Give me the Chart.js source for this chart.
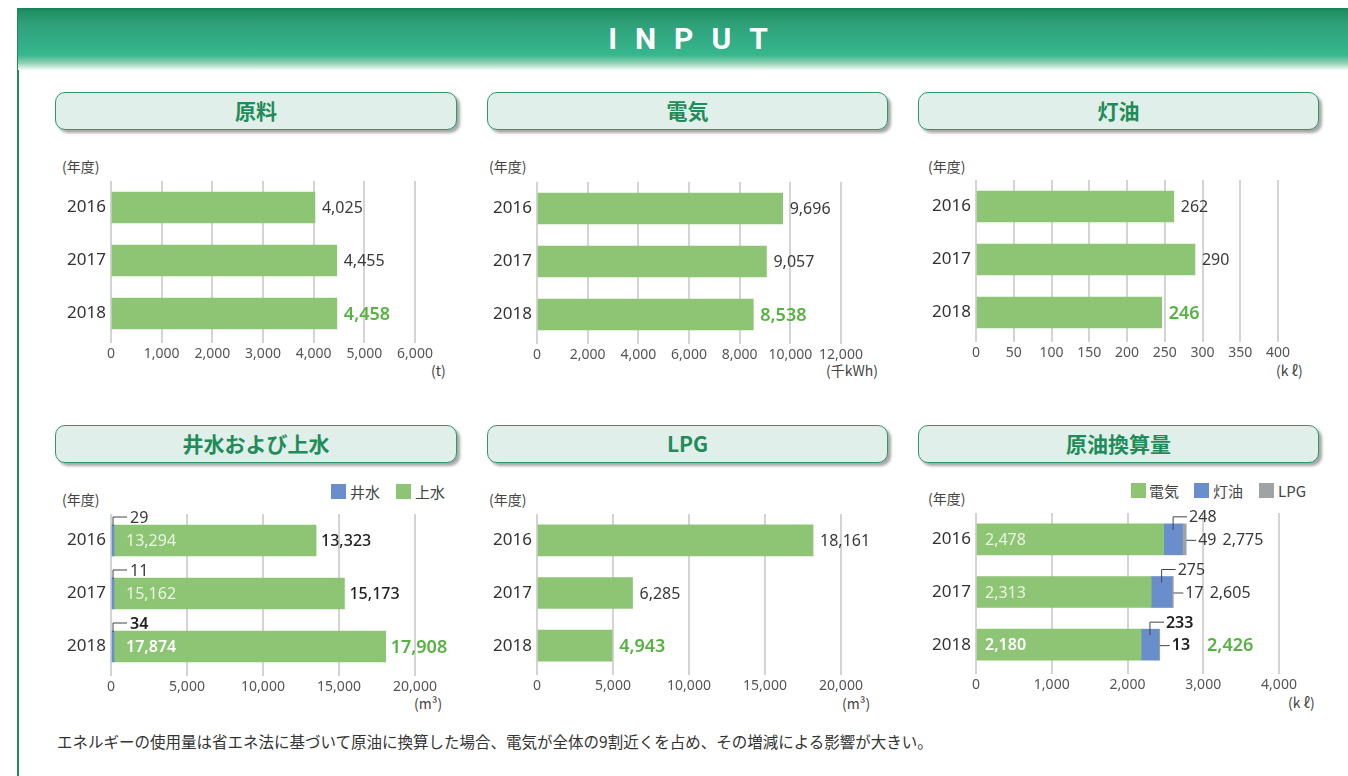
<!DOCTYPE html>
<html lang="ja">
<head>
<meta charset="utf-8">
<script src="https://cdn.jsdelivr.net/npm/chart.js@4.4.1/dist/chart.umd.min.js"></script>
<style>
  body { margin: 0; width: 1348px; height: 776px; position: relative; overflow: hidden; background: #fff;
         font-family: 'Noto Sans CJK JP', 'Noto Sans', sans-serif; }
  .abs { position: absolute; }
  #leftLine { left: 17px; top: 8px; width: 2px; height: 768px; background: #1d8b5c; }
  #band { left: 18px; top: 8px; width: 1330px; height: 62px;
          background: linear-gradient(to bottom, #15825a 0px, #1f8f63 3px, #2e9f77 14px, #34b089 38px, #37b78c 47px, #8fd0b4 55px, #d9efe5 60px, #ffffff 63px); }
  #band span { position: absolute; left: 0; right: 0; top: 13px; text-align: center; padding-left: 28px;
               color: #fff; font: bold 30px Roboto, sans-serif; letter-spacing: 18px; }
  .title { position: absolute; height: 36px; border: 1.5px solid #2b9a6b; border-radius: 10px; background: #e0efe9;
           box-shadow: 3px 3px 3px rgba(0,0,0,.35); color: #1f8c5a; font-weight: bold; font-size: 21px;
           text-align: center; line-height: 35px; }
  .note { position: absolute; font-size: 14px; color: #444; line-height: 16px; white-space: nowrap; }
  .leg { position: absolute; font-size: 15px; color: #444; line-height: 16px; white-space: nowrap; }
  .sq { position: absolute; width: 15px; height: 15px; }
  canvas { position: absolute; }
  #foot { position: absolute; left: 57px; top: 730px; font-size: 15.5px; color: #333; white-space: nowrap; }
</style>
</head>
<body>
<div id="leftLine" class="abs"></div>
<div id="band" class="abs"><span>INPUT</span></div>

<div class="title" style="left:55px;top:92px;width:400px;">原料</div>
<div class="title" style="left:487px;top:92px;width:399px;">電気</div>
<div class="title" style="left:918px;top:92px;width:399px;">灯油</div>
<div class="title" style="left:55px;top:425px;width:400px;">井水および上水</div>
<div class="title" style="left:487px;top:425px;width:399px;">LPG</div>
<div class="title" style="left:918px;top:425px;width:399px;">原油換算量</div>

<div class="note" style="left:62px;top:158px;">(年度)</div>
<div class="note" style="left:489px;top:158px;">(年度)</div>
<div class="note" style="left:928px;top:158px;">(年度)</div>
<div class="note" style="left:62px;top:491px;">(年度)</div>
<div class="note" style="left:489px;top:491px;">(年度)</div>
<div class="note" style="left:928px;top:490px;">(年度)</div>

<div class="note" style="left:431px;top:362px;">(t)</div>
<div class="note" style="left:826px;top:362px;">(千kWh)</div>
<div class="note" style="left:1276px;top:362px;">(k ℓ)</div>
<div class="note" style="left:414px;top:695px;">(m³)</div>
<div class="note" style="left:842px;top:695px;">(m³)</div>
<div class="note" style="left:1288px;top:694px;">(k ℓ)</div>

<div class="sq" style="left:331px;top:484px;background:#6a8ecb;"></div>
<div class="leg" style="left:350px;top:484px;">井水</div>
<div class="sq" style="left:396px;top:484px;background:#8dc574;"></div>
<div class="leg" style="left:415px;top:484px;">上水</div>

<div class="sq" style="left:1131px;top:483px;background:#8dc574;"></div>
<div class="leg" style="left:1149px;top:483px;">電気</div>
<div class="sq" style="left:1194px;top:483px;background:#6a8ecb;"></div>
<div class="leg" style="left:1213px;top:483px;">灯油</div>
<div class="sq" style="left:1259px;top:483px;background:#9fa3a3;"></div>
<div class="leg" style="left:1278px;top:483px;">LPG</div>

<div id="foot">エネルギーの使用量は省エネ法に基づいて原油に換算した場合、電気が全体の9割近くを占め、その増減による影響が大きい。</div>

<script>
// fiscal years
const years = ['2016', '2017', '2018'];

// 原料 (t)
const rawMaterial = [4025, 4455, 4458];
// 電気 (千kWh)
const electricity = [9696, 9057, 8538];
// 灯油 (kl)
const kerosene = [262, 290, 246];
// 井水 / 上水 (m3)
const wellWater = [29, 11, 34];
const cityWater = [13294, 15162, 17874];
const waterTotal = [13323, 15173, 17908];
// LPG (m3)
const lpg = [18161, 6285, 4943];
// 原油換算量 (kl)
const crudeElec = [2478, 2313, 2180];
const crudeKerosene = [248, 275, 233];
const crudeLpg = [49, 17, 13];
const crudeTotal = [2775, 2605, 2426];

// axis ranges [max, step]
const rawAxis = [6000, 1000];
const elecAxis = [12000, 2000];
const keroAxis = [400, 50];
const waterAxis = [20000, 5000];
const lpgAxis = [20000, 5000];
const crudeAxis = [4000, 1000];

const GREEN = '#8dc574';
const BLUE = '#6a8ecb';
const GRAY = '#9fa3a3';
const HILITE = '#57b341';
const TEXT = '#3a3a3a';
const NUM_FONT = '"Noto Sans", sans-serif';

Chart.defaults.font.family = NUM_FONT;
Chart.defaults.animation = false;

const fmt = v => v.toLocaleString('en-US');

function txt(ctx, s, x, y, size, weight, color) {
    ctx.font = weight + ' ' + size + 'px ' + NUM_FONT;
    ctx.fillStyle = color;
    ctx.textAlign = 'left';
    ctx.textBaseline = 'middle';
    ctx.fillText(s, x, y);
    return ctx.measureText(s).width;
}

function line(ctx, pts) {
    ctx.beginPath();
    ctx.moveTo(pts[0][0], pts[0][1]);
    for (let i = 1; i < pts.length; i++) ctx.lineTo(pts[i][0], pts[i][1]);
    ctx.strokeStyle = '#444';
    ctx.lineWidth = 1;
    ctx.stroke();
}

// label after each bar, last year highlighted
function endLabels(values) {
    return function (chart) {
        const ctx = chart.ctx;
        chart.getDatasetMeta(0).data.forEach((el, i) => {
            const last = i === values.length - 1;
            txt(ctx, fmt(values[i]), el.x + 7, el.y + 1, last ? 18 : 16, last ? '600' : '400', last ? HILITE : TEXT);
        });
    };
}

function waterLabels(chart) {
    const ctx = chart.ctx;
    const well = chart.getDatasetMeta(0).data;
    const city = chart.getDatasetMeta(1).data;
    city.forEach((el, i) => {
        const last = i === years.length - 1;
        const top = el.y - el.height / 2;
        const wx = (well[i].x + well[i].base) / 2;
        line(ctx, [[wx, top + 1], [wx, top - 8], [wx + 14, top - 8]]);
        txt(ctx, fmt(wellWater[i]), wx + 17, top - 7, 16, last ? '600' : '400', last ? '#222' : TEXT);
        txt(ctx, fmt(cityWater[i]), el.base + 12, el.y + 1, 16, last ? '600' : '400', last ? '#ffffff' : '#eaf5e3');
        txt(ctx, fmt(waterTotal[i]), el.x + 5, el.y + 1, last ? 18 : 16, last ? '600' : '500', last ? HILITE : '#222');
    });
}

function crudeLabels(chart) {
    const ctx = chart.ctx;
    const elec = chart.getDatasetMeta(0).data;
    const kero = chart.getDatasetMeta(1).data;
    const gas = chart.getDatasetMeta(2).data;
    elec.forEach((el, i) => {
        const last = i === years.length - 1;
        const w = last ? '600' : '400';
        const col = last ? '#222' : TEXT;
        const top = el.y - el.height / 2;
        txt(ctx, fmt(crudeElec[i]), el.base + 8, el.y + 1, 16, w, last ? '#ffffff' : '#eaf5e3');
        const kx = (kero[i].x + kero[i].base) / 2;
        line(ctx, [[kx, top + 6], [kx, top - 7], [kx + 14, top - 7]]);
        txt(ctx, fmt(crudeKerosene[i]), kx + 16, top - 6, 16, w, col);
        const gx = gas[i].x;
        line(ctx, [[gx, el.y + 1], [gx + 10, el.y + 1]]);
        const tw = txt(ctx, fmt(crudeLpg[i]), gx + 12, el.y + 1, 16, w, col);
        txt(ctx, fmt(crudeTotal[i]), gx + 12 + tw + (last ? 17 : 6), el.y + 1, last ? 18 : 16, w, last ? HILITE : TEXT);
    });
}

function makeChart(box, axis, datasets, drawLabels) {
    const padL = 70, padR = 62, padT = 22, axisH = 34;
    const c = document.createElement('canvas');
    const w = box.R - box.L + padL + padR;
    const h = box.B - box.T + padT + axisH;
    c.width = w; c.height = h;
    c.style.left = (box.L - padL) + 'px';
    c.style.top = (box.T - padT) + 'px';
    c.style.width = w + 'px'; c.style.height = h + 'px';
    document.body.appendChild(c);

    new Chart(c.getContext('2d'), {
        type: 'bar',
        data: { labels: years, datasets: datasets },
        options: {
            indexAxis: 'y',
            responsive: false,
            devicePixelRatio: 1,
            layout: { padding: { left: 0, right: padR, top: padT, bottom: 0 } },
            plugins: { legend: { display: false }, tooltip: { enabled: false } },
            scales: {
                x: {
                    stacked: true,
                    min: 0, max: axis[0],
                    grid: { color: '#d4d4d4', lineWidth: 2, tickLength: 3, drawTicks: true },
                    border: { display: false },
                    ticks: {
                        stepSize: axis[1], padding: 3, color: '#555',
                        font: { family: '"Liberation Sans Narrow", "Noto Sans", sans-serif', size: 14 },
                        callback: v => fmt(v)
                    },
                    afterFit: s => { s.height = axisH; }
                },
                y: {
                    stacked: true,
                    grid: { display: false, drawTicks: false },
                    border: { display: false },
                    ticks: { color: '#333', padding: 5, font: { size: 17 } },
                    afterFit: s => { s.width = padL; }
                }
            }
        },
        plugins: [{ id: 'valueLabels', afterDatasetsDraw: drawLabels }]
    });
}

const bar = (data, color, extra) => Object.assign({ data: data, backgroundColor: color, barThickness: 31 }, extra || {});

makeChart({ L: 111, R: 415, T: 181, B: 340 }, rawAxis, [bar(rawMaterial, GREEN)], endLabels(rawMaterial));
makeChart({ L: 537, R: 841, T: 182, B: 341 }, elecAxis, [bar(electricity, GREEN)], endLabels(electricity));
makeChart({ L: 976, R: 1278, T: 180, B: 339 }, keroAxis, [bar(kerosene, GREEN)], endLabels(kerosene));

makeChart({ L: 111, R: 415, T: 514, B: 673 }, waterAxis,
    [bar(wellWater, BLUE, { minBarLength: 3 }), bar(cityWater, GREEN)], waterLabels);
makeChart({ L: 537, R: 841, T: 514, B: 672 }, lpgAxis, [bar(lpg, GREEN)], endLabels(lpg));
makeChart({ L: 976, R: 1279, T: 513, B: 671 }, crudeAxis,
    [bar(crudeElec, GREEN), bar(crudeKerosene, BLUE), bar(crudeLpg, GRAY)], crudeLabels);
</script>
</body>
</html>
